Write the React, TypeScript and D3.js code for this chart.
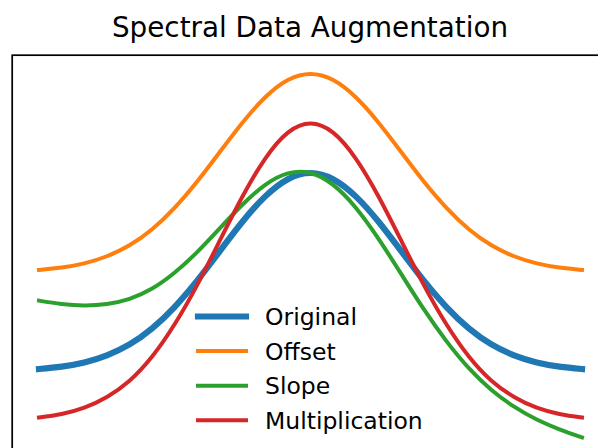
import React from "react";
import * as d3 from "d3";

const xValues = [-3, -2.75, -2.5, -2.25, -2, -1.75, -1.5, -1.25, -1, -0.75, -0.5, -0.25, 0, 0.25, 0.5, 0.75, 1, 1.25, 1.5, 1.75, 2, 2.25, 2.5, 2.75, 3];

const original = [0.011, 0.023, 0.044, 0.080, 0.135, 0.216, 0.325, 0.458, 0.607, 0.755, 0.882, 0.969, 1.000, 0.969, 0.882, 0.755, 0.607, 0.458, 0.325, 0.216, 0.135, 0.080, 0.044, 0.023, 0.011];
const offset = [0.511, 0.523, 0.544, 0.580, 0.635, 0.716, 0.825, 0.958, 1.107, 1.255, 1.382, 1.469, 1.500, 1.469, 1.382, 1.255, 1.107, 0.958, 0.825, 0.716, 0.635, 0.580, 0.544, 0.523, 0.511];
const slope = [0.356, 0.339, 0.332, 0.339, 0.365, 0.417, 0.498, 0.602, 0.722, 0.841, 0.940, 0.998, 1.000, 0.940, 0.825, 0.669, 0.492, 0.314, 0.153, 0.015, -0.095, -0.179, -0.244, -0.293, -0.334];
const multiplication = [-0.234, -0.216, -0.184, -0.130, -0.048, 0.074, 0.238, 0.437, 0.661, 0.883, 1.073, 1.204, 1.250, 1.204, 1.073, 0.883, 0.661, 0.437, 0.238, 0.074, -0.048, -0.130, -0.184, -0.216, -0.234];

const seriesNames = ["Original", "Offset", "Slope", "Multiplication"];
const seriesColors = ["#1f77b4", "#ff7f0e", "#2ca02c", "#d62728"];
const seriesWidths = [6.2, 4, 4, 4];
const seriesData = [original, offset, slope, multiplication];

const title = "Spectral Data Augmentation";

export default function App() {
  const W = 598;
  const H = 448;
  const x = d3.scaleLinear().domain([-3, 3]).range([39, 582]);
  const y = d3.scaleLinear().domain([0, 1]).range([371.2, 173]);
  const line = d3
    .line<number>()
    .x((_, i) => x(xValues[i]))
    .y((d) => y(d))
    .curve(d3.curveNatural);

  const legendX = 198;
  const legendY0 = 316.5;
  const legendStep = 34.6;

  return (
    <svg
      width={W}
      height={H}
      style={{ position: "absolute", left: 0, top: 0, background: "#fff" }}
      fontFamily="DejaVu Sans"
    >
      <rect x={0} y={0} width={W} height={H} fill="#fff" />
      <text x={310} y={37} fontSize={27.8} textAnchor="middle" fill="#000">
        {title}
      </text>
      {seriesData.map((d, i) => (
        <path
          key={seriesNames[i]}
          d={line(d) || ""}
          fill="none"
          stroke={seriesColors[i]}
          strokeWidth={seriesWidths[i]}
          strokeLinecap="square"
          strokeLinejoin="round"
        />
      ))}
      <rect x={12.2} y={55.2} width={800} height={600} fill="none" stroke="#000" strokeWidth={1.7} />
      {seriesNames.map((name, i) => {
        const cy = legendY0 + i * legendStep;
        return (
          <g key={name}>
            <line
              x1={legendX}
              x2={legendX + 48}
              y1={cy}
              y2={cy}
              stroke={seriesColors[i]}
              strokeWidth={seriesWidths[i]}
              strokeLinecap="square"
            />
            <text x={265} y={cy + 8.6} fontSize={23.5} fill="#000">
              {name}
            </text>
          </g>
        );
      })}
    </svg>
  );
}
